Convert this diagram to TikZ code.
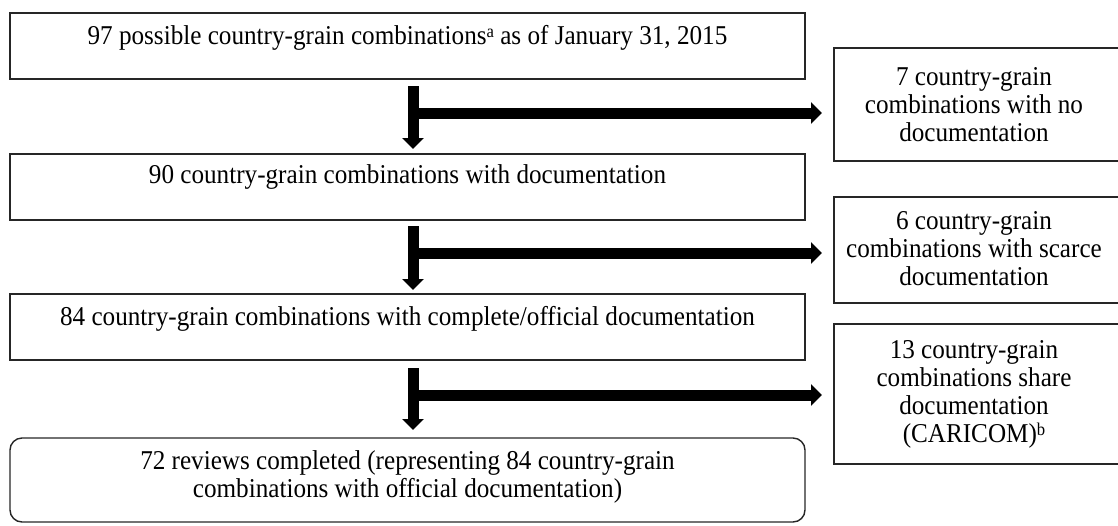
\documentclass[tikz,border=0pt]{standalone}
\usepackage{fontspec}
\setmainfont[FakeStretch=0.925]{Liberation Serif}
\usetikzlibrary{arrows.meta}
\newcommand\supmark[1]{\raisebox{7pt}{\fontsize{18}{18}\selectfont #1}}
\begin{document}
\begin{tikzpicture}[x=1pt,y=-1pt,
  box/.style={draw=black!85,line width=1.4pt},
  txt/.style={font=\fontsize{27.2}{28}\selectfont,align=center,inner sep=0pt},
  flow/.style={line width=11pt,-{Triangle[length=11pt,width=21pt]}}]
\useasboundingbox (0,0) rectangle (1118,525);
% left boxes
\draw[box] (10,13) rectangle (805,79);
\node[txt] (t1) at (407.5,38) {97 possible country-grain combinations\supmark{a} as of January 31, 2015};
\draw[box] (10,154) rectangle (805,220);
\node[txt] (t2) at (407.5,177) {90 country-grain combinations with documentation};
\draw[box] (10,294) rectangle (805,360);
\node[txt] (t3) at (407.5,319) {84 country-grain combinations with complete/official documentation};
\draw[box,rounded corners=12pt] (10,438) rectangle (805,522);
\node[txt] (t4) at (407.5,477) {72 reviews completed (representing 84 country-grain\\combinations with official documentation)};
% right boxes
\draw[box] (834,48) rectangle (1125,161);
\node[txt] (r1) at (974,105) {7 country-grain\\combinations with no\\documentation};
\draw[box] (834,197) rectangle (1125,303);
\node[txt] (r2) at (974,249) {6 country-grain\\combinations with scarce\\documentation};
\draw[box] (834,324) rectangle (1125,464);
\node[txt] (r3) at (974,394) {13 country-grain\\combinations share\\documentation\\(CARICOM)\supmark{b}};
% arrows
\coordinate (a1) at (413,86); \coordinate (b1) at (413,149);
\coordinate (h1) at (413,113); \coordinate (e1) at (822,113);
\coordinate (a2) at (413,226); \coordinate (b2) at (413,290);
\coordinate (h2) at (413,253); \coordinate (e2) at (822,253);
\coordinate (a3) at (413,368); \coordinate (b3) at (413,430);
\coordinate (h3) at (413,395); \coordinate (e3) at (822,395);
\foreach \i in {1,2,3}{
  \draw[flow] (a\i) -- (b\i);
  \draw[flow] (h\i) -- (e\i);
}
\end{tikzpicture}
\end{document}
